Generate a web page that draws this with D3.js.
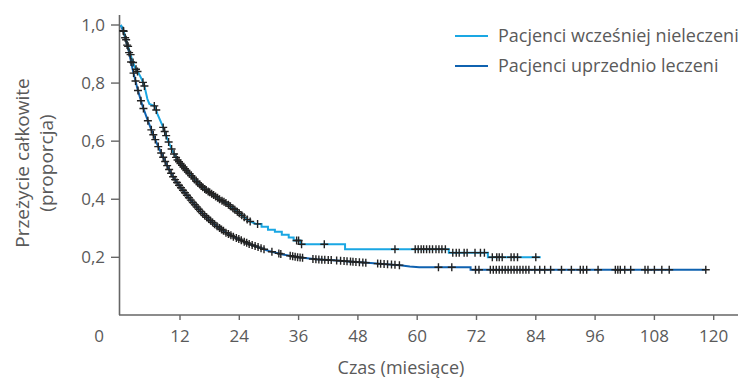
<!DOCTYPE html>
<html>
<head>
<meta charset="utf-8">
<script src="https://cdn.jsdelivr.net/npm/d3@7"></script>
<style>
    body { margin: 0; background: #fff; }
    text { font-family: "Open Sans", "DejaVu Sans", sans-serif; fill: #5a5a5a; }
</style>
</head>
<body>
<script>
// krzywe Kaplana-Meiera: [czas w miesiacach, przezycie]
var untreatedCurve = [
    [0, 1.0], [0.4, 0.99], [1.0, 0.955], [1.7, 0.915], [2.4, 0.875], [3.0, 0.85], [3.6, 0.835],
    [4.2, 0.815], [4.8, 0.79], [5.4, 0.745], [5.8, 0.728], [7.0, 0.72], [7.4, 0.695], [8.5, 0.652],
    [9.5, 0.605], [10.5, 0.565], [11.5, 0.535], [12.5, 0.515], [13.5, 0.495], [14.5, 0.478],
    [15.5, 0.458], [17, 0.435], [18.5, 0.418], [20, 0.40], [21.5, 0.385], [23, 0.365], [24.5, 0.345],
    [26, 0.325], [27.4, 0.315], [28.5, 0.315], [28.5, 0.305], [29.8, 0.305], [29.8, 0.295],
    [31.2, 0.295], [31.2, 0.288], [32.6, 0.288], [32.6, 0.278], [34, 0.278], [34, 0.268],
    [35, 0.268], [35, 0.258], [36.4, 0.258], [36.4, 0.245], [45.4, 0.245], [45.4, 0.228],
    [66.4, 0.228], [66.4, 0.216], [74.3, 0.216], [74.3, 0.2], [85, 0.2]
];
var treatedCurve = [
    [0, 1.0], [0.5, 0.98], [1.0, 0.95], [1.7, 0.905], [2.4, 0.848], [3.4, 0.78], [4.4, 0.722],
    [5.4, 0.675], [6.4, 0.63], [7.5, 0.585], [8.5, 0.548], [9.5, 0.512], [10.5, 0.48], [11.5, 0.455],
    [12.5, 0.433], [13.8, 0.405], [15.2, 0.377], [16.5, 0.352], [17.9, 0.33], [19.5, 0.307],
    [21.3, 0.285], [22.7, 0.272], [24, 0.262], [26, 0.246], [28, 0.234], [30, 0.222], [32.8, 0.21],
    [36, 0.2], [39.5, 0.193], [43, 0.19], [46, 0.186], [50, 0.181], [53, 0.177], [56.5, 0.173],
    [58.5, 0.168], [60.4, 0.166], [70.8, 0.166], [70.8, 0.157], [118.4, 0.157]
];

// obserwacje ocenzurowane (czas w miesiacach)
var untreatedCensor = [
    0.6, 1.1, 1.5, 2.0, 2.5, 3.1, 3.4, 4.5, 4.8, 6.8, 7.2, 8.6, 8.9, 9.2, 9.7, 10.3, 10.8,
    11.2, 11.5, 11.8, 12.1, 12.4, 12.7, 13.0, 13.3, 13.6, 13.9, 14.3, 14.6, 14.9, 15.3, 15.6,
    16.0, 16.3, 16.6, 17.0, 17.3, 17.7, 18.0, 18.4, 18.8, 19.2, 19.6, 20.0, 20.5, 20.9, 21.3,
    21.8, 22.2, 22.7, 23.1, 23.6, 24.0, 24.5, 25.0, 25.6, 26.2, 27.7, 35.6, 36.0, 36.6, 41.2,
    55.5, 59.6, 60.2, 60.8, 61.3, 61.9, 62.5, 63.1, 63.8, 64.4, 65.0, 65.7, 67.2, 67.9, 68.5,
    69.5, 70.1, 71.7, 72.8, 73.6, 75.2, 76.1, 76.6, 77.2, 79.0, 79.6, 80.3, 84.0
];
var treatedCensor = [
    0.5, 0.9, 1.3, 1.7, 2.1, 2.6, 3.0, 3.5, 4.1, 4.6, 5.5, 6.2, 6.6, 7.0, 7.6, 8.2, 8.6, 9.0,
    9.4, 9.8, 10.2, 10.6, 11.0, 11.4, 11.8, 12.2, 12.6, 13.0, 13.4, 13.8, 14.2, 14.6, 15.0,
    15.4, 15.8, 16.2, 16.6, 17.0, 17.4, 17.8, 18.2, 18.6, 19.0, 19.5, 20.0, 20.4, 20.8, 21.3,
    21.8, 22.3, 22.8, 23.4, 23.9, 24.4, 25.0, 25.5, 26.0, 26.6, 27.2, 27.8, 28.4, 29.0, 30.6,
    32.0, 32.4, 34.3, 34.8, 35.3, 35.8, 36.3, 36.8, 38.9, 39.5, 40.1, 40.7, 41.3, 42.0, 42.6,
    43.7, 44.5, 45.2, 45.8, 46.5, 47.0, 47.6, 48.3, 49.0, 49.6, 52.0, 52.6, 53.3, 54.0, 54.8,
    55.5, 56.4, 64.3, 67.0, 71.8, 72.5, 74.8, 75.4, 76.0, 76.6, 77.2, 77.8, 78.4, 79.0, 79.6,
    80.2, 80.8, 81.4, 82.0, 82.6, 83.8, 84.8, 85.8, 87.0, 89.2, 91.2, 93.0, 93.6, 94.3, 96.6,
    100.1, 100.6, 101.1, 102.0, 103.2, 106.1, 106.7, 108.0, 109.5, 111.0, 118.4
];

var xTicks = [12, 24, 36, 48, 60, 72, 84, 96, 108, 120];
var yTicks = [0.2, 0.4, 0.6, 0.8, 1.0];
var seriesNames = ["Pacjenci wcześniej nieleczeni", "Pacjenci uprzednio leczeni"];
var seriesColors = ["#1aa7e3", "#0f62b0"];

var width = 746, height = 379;
var svg = d3.select('body').append('svg')
        .attr('width', width)
        .attr('height', height);

var x = d3.scaleLinear().domain([0, 120]).range([120.7, 713.7]);
var y = d3.scaleLinear().domain([0, 1]).range([315.4, 25]);

/**
 * wartosc krzywej w chwili t (do polozenia krzyzykow)
 */
function survivalAt(curve, t) {
    for (var i = 0; i < curve.length - 1; i++) {
        var a = curve[i], b = curve[i + 1];
        if (t >= a[0] && t <= b[0] && b[0] > a[0]) {
            return a[1] + (b[1] - a[1]) * (t - a[0]) / (b[0] - a[0]);
        }
    }
    return curve[curve.length - 1][1];
}

function drawAxes() {
    // os X
    svg.append('line')
            .attr('x1', 119).attr('x2', 738)
            .attr('y1', 315).attr('y2', 315)
            .style('stroke', '#666').style('stroke-width', 1.6);
    svg.selectAll('.xtick').data(xTicks).enter().append('line')
            .attr('x1', function (d) { return x(d); })
            .attr('x2', function (d) { return x(d); })
            .attr('y1', 315).attr('y2', 320)
            .style('stroke', '#666').style('stroke-width', 1.4);
    svg.selectAll('.xlab').data(xTicks).enter().append('text')
            .attr('x', function (d) { return x(d); })
            .attr('y', 342)
            .attr('text-anchor', 'middle')
            .style('font-size', '17px')
            .text(function (d) { return d; });
    svg.append('text')
            .attr('x', 99).attr('y', 342)
            .attr('text-anchor', 'middle')
            .style('font-size', '17px')
            .text('0');
    svg.append('text')
            .attr('x', 401).attr('y', 374)
            .attr('text-anchor', 'middle')
            .style('font-size', '18px')
            .text('Czas (miesiące)');

    // os Y
    svg.append('line')
            .attr('x1', 119.5).attr('x2', 119.5)
            .attr('y1', 15).attr('y2', 315)
            .style('stroke', '#666').style('stroke-width', 1.6);
    svg.selectAll('.ytick').data(yTicks).enter().append('line')
            .attr('x1', 111).attr('x2', 119.5)
            .attr('y1', function (d) { return y(d); })
            .attr('y2', function (d) { return y(d); })
            .style('stroke', '#666').style('stroke-width', 1.4);
    svg.selectAll('.ylab').data(yTicks).enter().append('text')
            .attr('x', 105)
            .attr('y', function (d) { return y(d) + 6; })
            .attr('text-anchor', 'end')
            .style('font-size', '17px')
            .text(function (d) { return d3.format('.1f')(d).replace('.', ','); });
    var title = svg.append('text')
            .attr('transform', 'translate(0,163) rotate(-90)')
            .attr('text-anchor', 'middle')
            .style('font-size', '19px');
    title.append('tspan').attr('x', 0).attr('y', 29).text('Przeżycie całkowite');
    title.append('tspan').attr('x', 0).attr('y', 53).text('(proporcja)');
}

function drawCurve(curve, color) {
    var line = d3.line()
            .x(function (d) { return x(d[0]); })
            .y(function (d) { return y(d[1]); });
    svg.append('path')
            .datum(curve)
            .attr('d', line)
            .style('fill', 'none')
            .style('stroke', color)
            .style('stroke-width', 2);
}

function drawCensors(curve, times) {
    svg.append('g').selectAll('path').data(times).enter().append('path')
            .attr('d', function (t) {
                var px = x(t), py = y(survivalAt(curve, t));
                return 'M' + (px - 4) + ',' + py + 'H' + (px + 4) + 'M' + px + ',' + (py - 4) + 'V' + (py + 4);
            })
            .style('stroke', '#222')
            .style('stroke-width', 1.4)
            .style('fill', 'none');
}

function drawLegend() {
    seriesNames.forEach(function (name, i) {
        var ly = 36 + i * 30;
        svg.append('line')
                .attr('x1', 455).attr('x2', 488)
                .attr('y1', ly).attr('y2', ly)
                .style('stroke', seriesColors[i])
                .style('stroke-width', 2);
        svg.append('text')
                .attr('x', 498).attr('y', ly + 6)
                .style('font-size', '18px')
                .text(name);
    });
}

drawAxes();
drawCurve(treatedCurve, seriesColors[1]);
drawCurve(untreatedCurve, seriesColors[0]);
drawCensors(treatedCurve, treatedCensor);
drawCensors(untreatedCurve, untreatedCensor);
drawLegend();
</script>
</body>
</html>
